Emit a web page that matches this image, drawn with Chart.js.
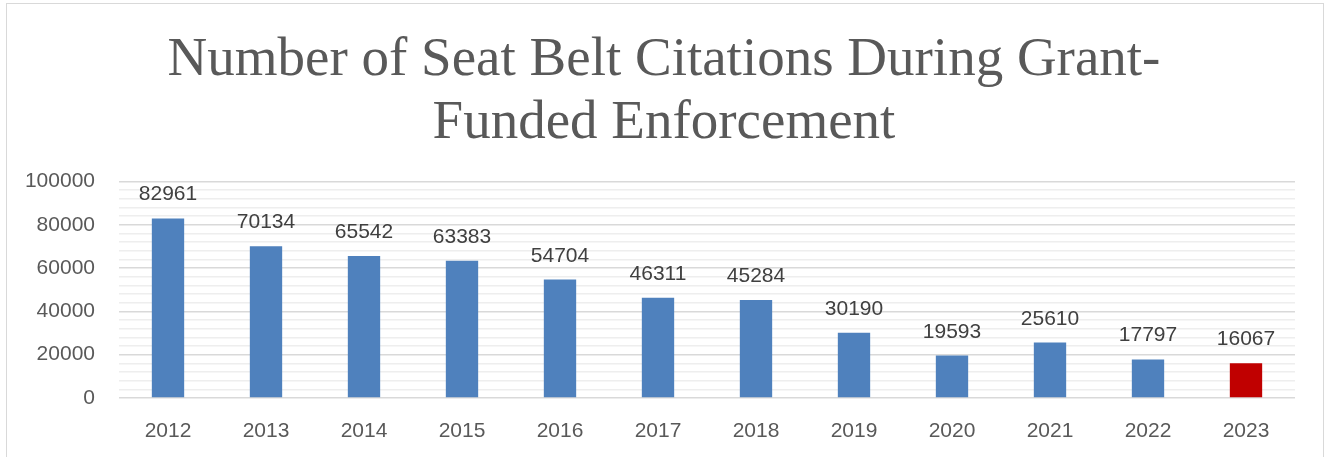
<!DOCTYPE html>
<html>
<head>
<meta charset="utf-8">
<script src="https://cdn.jsdelivr.net/npm/chart.js@4.4.1/dist/chart.umd.min.js"></script>
<style>
  html, body { margin: 0; padding: 0; background: #fff; }
  #wrap { position: relative; width: 1328px; height: 457px; }
  #frame { position: absolute; left: 6px; top: 3px; width: 1316px; height: 470px;
           border: 1px solid #d9d9d9; pointer-events: none; }
</style>
</head>
<body>
<div id="wrap">
  <canvas id="chart" width="1328" height="457"></canvas>
  <div id="frame"></div>
</div>
<script>
// データ
const years = ['2012', '2013', '2014', '2015', '2016', '2017', '2018', '2019', '2020', '2021', '2022', '2023'];
const citations = [82961, 70134, 65542, 63383, 54704, 46311, 45284, 30190, 19593, 25610, 17797, 16067];
const yTicks = [0, 20000, 40000, 60000, 80000, 100000];
const minorStep = 4000;

const barColors = years.map((y, i) => i === years.length - 1 ? '#C00000' : '#4F81BD');
const labelFont = { family: "'Liberation Sans', sans-serif", size: 21 };

// 棒の上に数値を描く
const valueLabels = {
    id: 'valueLabels',
    afterDatasetsDraw(chart) {
        const ctx = chart.ctx;
        const meta = chart.getDatasetMeta(0);
        ctx.save();
        ctx.font = "21px 'Liberation Sans', sans-serif";
        ctx.fillStyle = '#404040';
        ctx.textAlign = 'center';
        ctx.textBaseline = 'alphabetic';
        meta.data.forEach((bar, i) => {
            ctx.fillText(String(chart.data.datasets[0].data[i]), bar.x, bar.y - 18);
        });
        ctx.restore();
    }
};

new Chart(document.getElementById('chart').getContext('2d'), {
    type: 'bar',
    data: {
        labels: years,
        datasets: [{
            data: citations,
            backgroundColor: barColors,
            barPercentage: 0.33,
            categoryPercentage: 1.0
        }]
    },
    options: {
        responsive: false,
        animation: false,
        layout: { padding: 0 },
        scales: {
            x: {
                grid: { display: false },
                border: { display: false },
                ticks: { color: '#595959', font: labelFont, padding: 13 },
                afterFit: s => { s.height = 59; }
            },
            y: {
                min: 0,
                max: yTicks[yTicks.length - 1],
                border: { display: false },
                grid: {
                    drawTicks: false,
                    color: c => yTicks.includes(c.tick.value) ? '#d9d9d9' : '#eeeeee',
                    lineWidth: 1.5
                },
                ticks: {
                    stepSize: minorStep,
                    autoSkip: false,
                    maxTicksLimit: 100,
                    padding: 24,
                    color: '#595959',
                    font: labelFont,
                    callback: v => yTicks.includes(v) ? String(v) : ''
                },
                afterFit: s => { s.width = 119; }
            },
            // 右側の余白用（表示なし）
            yRight: {
                position: 'right',
                grid: { display: false },
                border: { display: false },
                ticks: { display: false },
                afterFit: s => { s.width = 33; }
            }
        },
        plugins: {
            legend: { display: false },
            tooltip: { enabled: false },
            title: {
                display: true,
                text: ['Number of Seat Belt Citations During Grant-', 'Funded Enforcement'],
                color: '#595959',
                font: { family: "'Liberation Serif', serif", size: 55, weight: 'normal', lineHeight: 1.15 },
                padding: { top: 29, bottom: 26 }
            }
        }
    },
    plugins: [valueLabels]
});
</script>
</body>
</html>
